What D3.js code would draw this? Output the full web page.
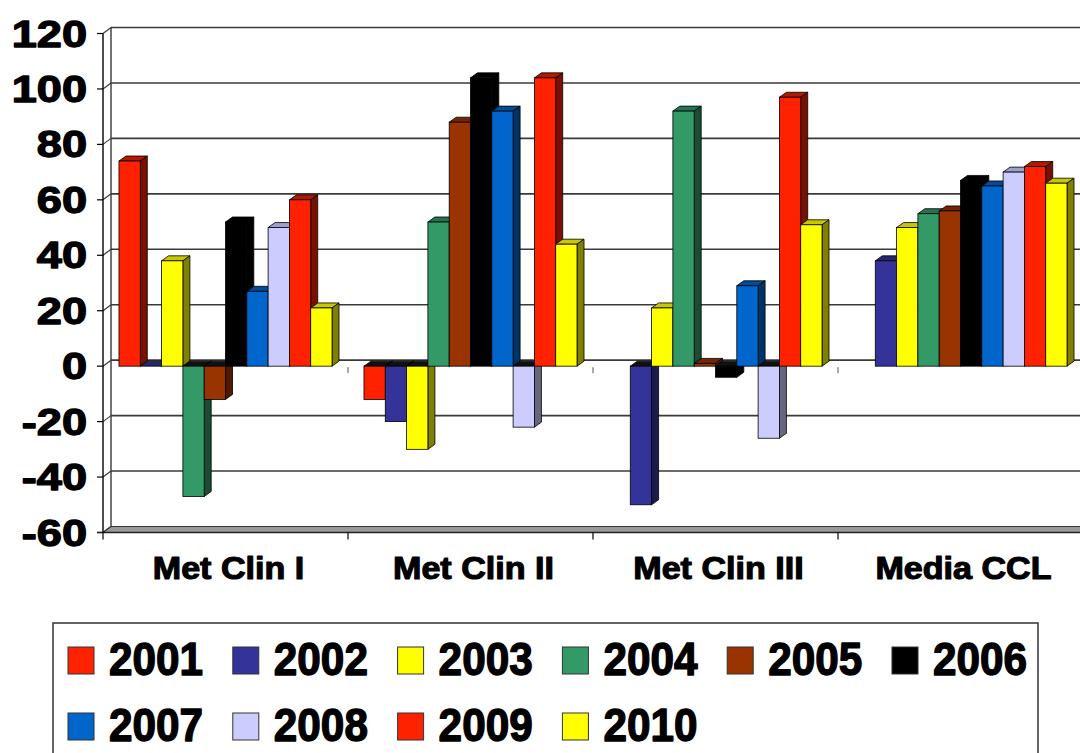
<!DOCTYPE html>
<html>
<head>
<meta charset="utf-8">
<script src="https://cdn.jsdelivr.net/npm/d3@7"></script>
<style>
  html, body { margin: 0; padding: 0; background: #fff; }
  svg { display: block; }
</style>
</head>
<body>
<svg id="chart" width="1080" height="753"></svg>
<script>
// ---- data ----
const categories = ["Met Clin I", "Met Clin II", "Met Clin III", "Media CCL"];
const years = ["2001", "2002", "2003", "2004", "2005", "2006", "2007", "2008", "2009", "2010"];
const v2001 = [74, -12, null, null];
const v2002 = [0, -20, -50, 38];
const v2003 = [38, -30, 21, 50];
const v2004 = [-47, 52, 92, 55];
const v2005 = [-12, 88, 1, 56];
const v2006 = [52, 104, -4, 67];
const v2007 = [27, 92, 29, 65];
const v2008 = [50, -22, -26, 70];
const v2009 = [60, 104, 97, 72];
const v2010 = [21, 44, 51, 66];
const yTicks = [-60, -40, -20, 0, 20, 40, 60, 80, 100, 120];

const seriesValues = [v2001, v2002, v2003, v2004, v2005, v2006, v2007, v2008, v2009, v2010];
const fronts = ["#FF2200", "#333399", "#FFFF00", "#339966", "#993300", "#000000", "#0066CC", "#CCCCFF", "#FF2200", "#FFFF00"];
const tops   = ["#B31800", "#26266E", "#C8C800", "#267350", "#732600", "#000000", "#004C99", "#9F9FCC", "#B31800", "#C8C800"];
const sides  = ["#7A1000", "#1A1A4D", "#808000", "#1A4D33", "#4D1A00", "#000000", "#003366", "#666680", "#7A1000", "#808000"];

const svg = d3.select("#chart");

const x = d3.scaleBand().domain(categories).range([103, 1083]).padding(0);
const xi = d3.scaleBand().domain(years).range([0, x.bandwidth()]).paddingInner(0).paddingOuter(0.75);
const y = d3.scaleLinear().domain([-60, 120]).range([532.5, 33.5]);

const wdx = 8, wdy = -6;   // wall depth
const bdx = 7, bdy = -5;   // bar depth

// ---- walls / gridlines ----
const grid = svg.append("g");
yTicks.forEach(t => {
  const yf = y(t);
  if (t !== -60) {
    grid.append("line").attr("x1", x.range()[0] + wdx).attr("x2", 1080)
      .attr("y1", yf + wdy).attr("y2", yf + wdy)
      .attr("stroke", "#3a3a3a").attr("stroke-width", 1.6);
  }
  grid.append("line").attr("x1", x.range()[0]).attr("x2", x.range()[0] + wdx)
    .attr("y1", yf).attr("y2", yf + wdy)
    .attr("stroke", "#3a3a3a").attr("stroke-width", 1.2);
  grid.append("line").attr("x1", x.range()[0] - 6).attr("x2", x.range()[0])
    .attr("y1", yf).attr("y2", yf)
    .attr("stroke", "#000").attr("stroke-width", 1.2);
});
// back wall left edge
grid.append("line").attr("x1", x.range()[0] + wdx).attr("x2", x.range()[0] + wdx)
  .attr("y1", y(120) + wdy).attr("y2", y(-60) + wdy)
  .attr("stroke", "#3a3a3a").attr("stroke-width", 1.4);
// floor
const fy = y(-60);
grid.append("polygon")
  .attr("points", [[x.range()[0], fy], [1090, fy], [1090 + wdx, fy + wdy], [x.range()[0] + wdx, fy + wdy]].map(p => p.join(",")).join(" "))
  .attr("fill", "#9a9a9a").attr("stroke", "#333").attr("stroke-width", 1.2);
// front value axis
grid.append("line").attr("x1", x.range()[0]).attr("x2", x.range()[0])
  .attr("y1", y(120)).attr("y2", y(-60))
  .attr("stroke", "#000").attr("stroke-width", 1.4);
// bottom category axis line & ticks
grid.append("line").attr("x1", x.range()[0] - 6).attr("x2", 1080)
  .attr("y1", fy).attr("y2", fy).attr("stroke", "#222").attr("stroke-width", 1.4);
categories.forEach(c => {
  grid.append("line").attr("x1", x(c)).attr("x2", x(c)).attr("y1", fy).attr("y2", fy + 7)
    .attr("stroke", "#000").attr("stroke-width", 1.2);
  if (c !== categories[0]) {
    grid.append("line").attr("x1", x(c)).attr("x2", x(c)).attr("y1", y(0) + 1).attr("y2", y(0) + 7)
      .attr("stroke", "#555").attr("stroke-width", 1);
  }
});

// ---- bars ----
const bars = svg.append("g");
categories.forEach((c, ci) => {
  years.forEach((yr, si) => {
    const v = seriesValues[si][ci];
    if (v === null) return;
    const x0 = x(c) + xi(yr);
    const w = xi.bandwidth();
    const yT = y(Math.max(v, 0));
    const yB = y(Math.min(v, 0));
    const topCol = v >= 0 ? tops[si] : "#111";
    bars.append("polygon")
      .attr("points", [[x0, yT], [x0 + w, yT], [x0 + w + bdx, yT + bdy], [x0 + bdx, yT + bdy]].map(p => p.join(",")).join(" "))
      .attr("fill", topCol).attr("stroke", "#000").attr("stroke-width", 0.8);
    bars.append("polygon")
      .attr("points", [[x0 + w, yT], [x0 + w + bdx, yT + bdy], [x0 + w + bdx, yB + bdy], [x0 + w, yB]].map(p => p.join(",")).join(" "))
      .attr("fill", sides[si]).attr("stroke", "#000").attr("stroke-width", 0.8);
    bars.append("rect")
      .attr("x", x0).attr("y", yT).attr("width", w).attr("height", Math.max(0, yB - yT))
      .attr("fill", fronts[si]).attr("stroke", "#000").attr("stroke-width", 0.8);
  });
});

// ---- axis labels ----
const font = "'Liberation Sans', Arial, sans-serif";
svg.append("g").selectAll("text").data(yTicks).join("text")
  .attr("transform", d => `translate(87,${y(d) + 13}) scale(1.22,1)`)
  .attr("text-anchor", "end")
  .attr("font-family", font).attr("font-weight", "bold").attr("font-size", 37)
  .attr("fill", "#000").attr("stroke", "#000").attr("stroke-width", 1.3)
  .attr("stroke-linejoin", "round")
  .text(d => d);

svg.append("g").selectAll("text").data(categories).join("text")
  .attr("transform", d => `translate(${x(d) + x.bandwidth() / 2 + 3},579) scale(1.1,1)`)
  .attr("text-anchor", "middle")
  .attr("font-family", font).attr("font-weight", "bold").attr("font-size", 31)
  .attr("fill", "#000").attr("stroke", "#000").attr("stroke-width", 1.1)
  .attr("stroke-linejoin", "round")
  .text(d => d);

// ---- legend ----
const lg = svg.append("g");
lg.append("rect").attr("x", 53).attr("y", 623).attr("width", 985).attr("height", 150)
  .attr("fill", "#fff").attr("stroke", "#333").attr("stroke-width", 1.5);
years.forEach((yr, i) => {
  const row = i < 6 ? 0 : 1;
  const col = i < 6 ? i : i - 6;
  const lx = 68 + col * 164.8;
  const ly = row === 0 ? 647 : 713;
  lg.append("rect").attr("x", lx).attr("y", ly).attr("width", 26).attr("height", 27)
    .attr("fill", fronts[i]).attr("stroke", "#333").attr("stroke-width", 1);
  lg.append("text")
    .attr("transform", `translate(${lx + 41},${ly + 28}) scale(0.92,1)`)
    .attr("font-family", font).attr("font-weight", "bold").attr("font-size", 46)
    .attr("fill", "#000").attr("stroke", "#000").attr("stroke-width", 1.4)
    .attr("stroke-linejoin", "round")
    .text(yr);
});
</script>
</body>
</html>
